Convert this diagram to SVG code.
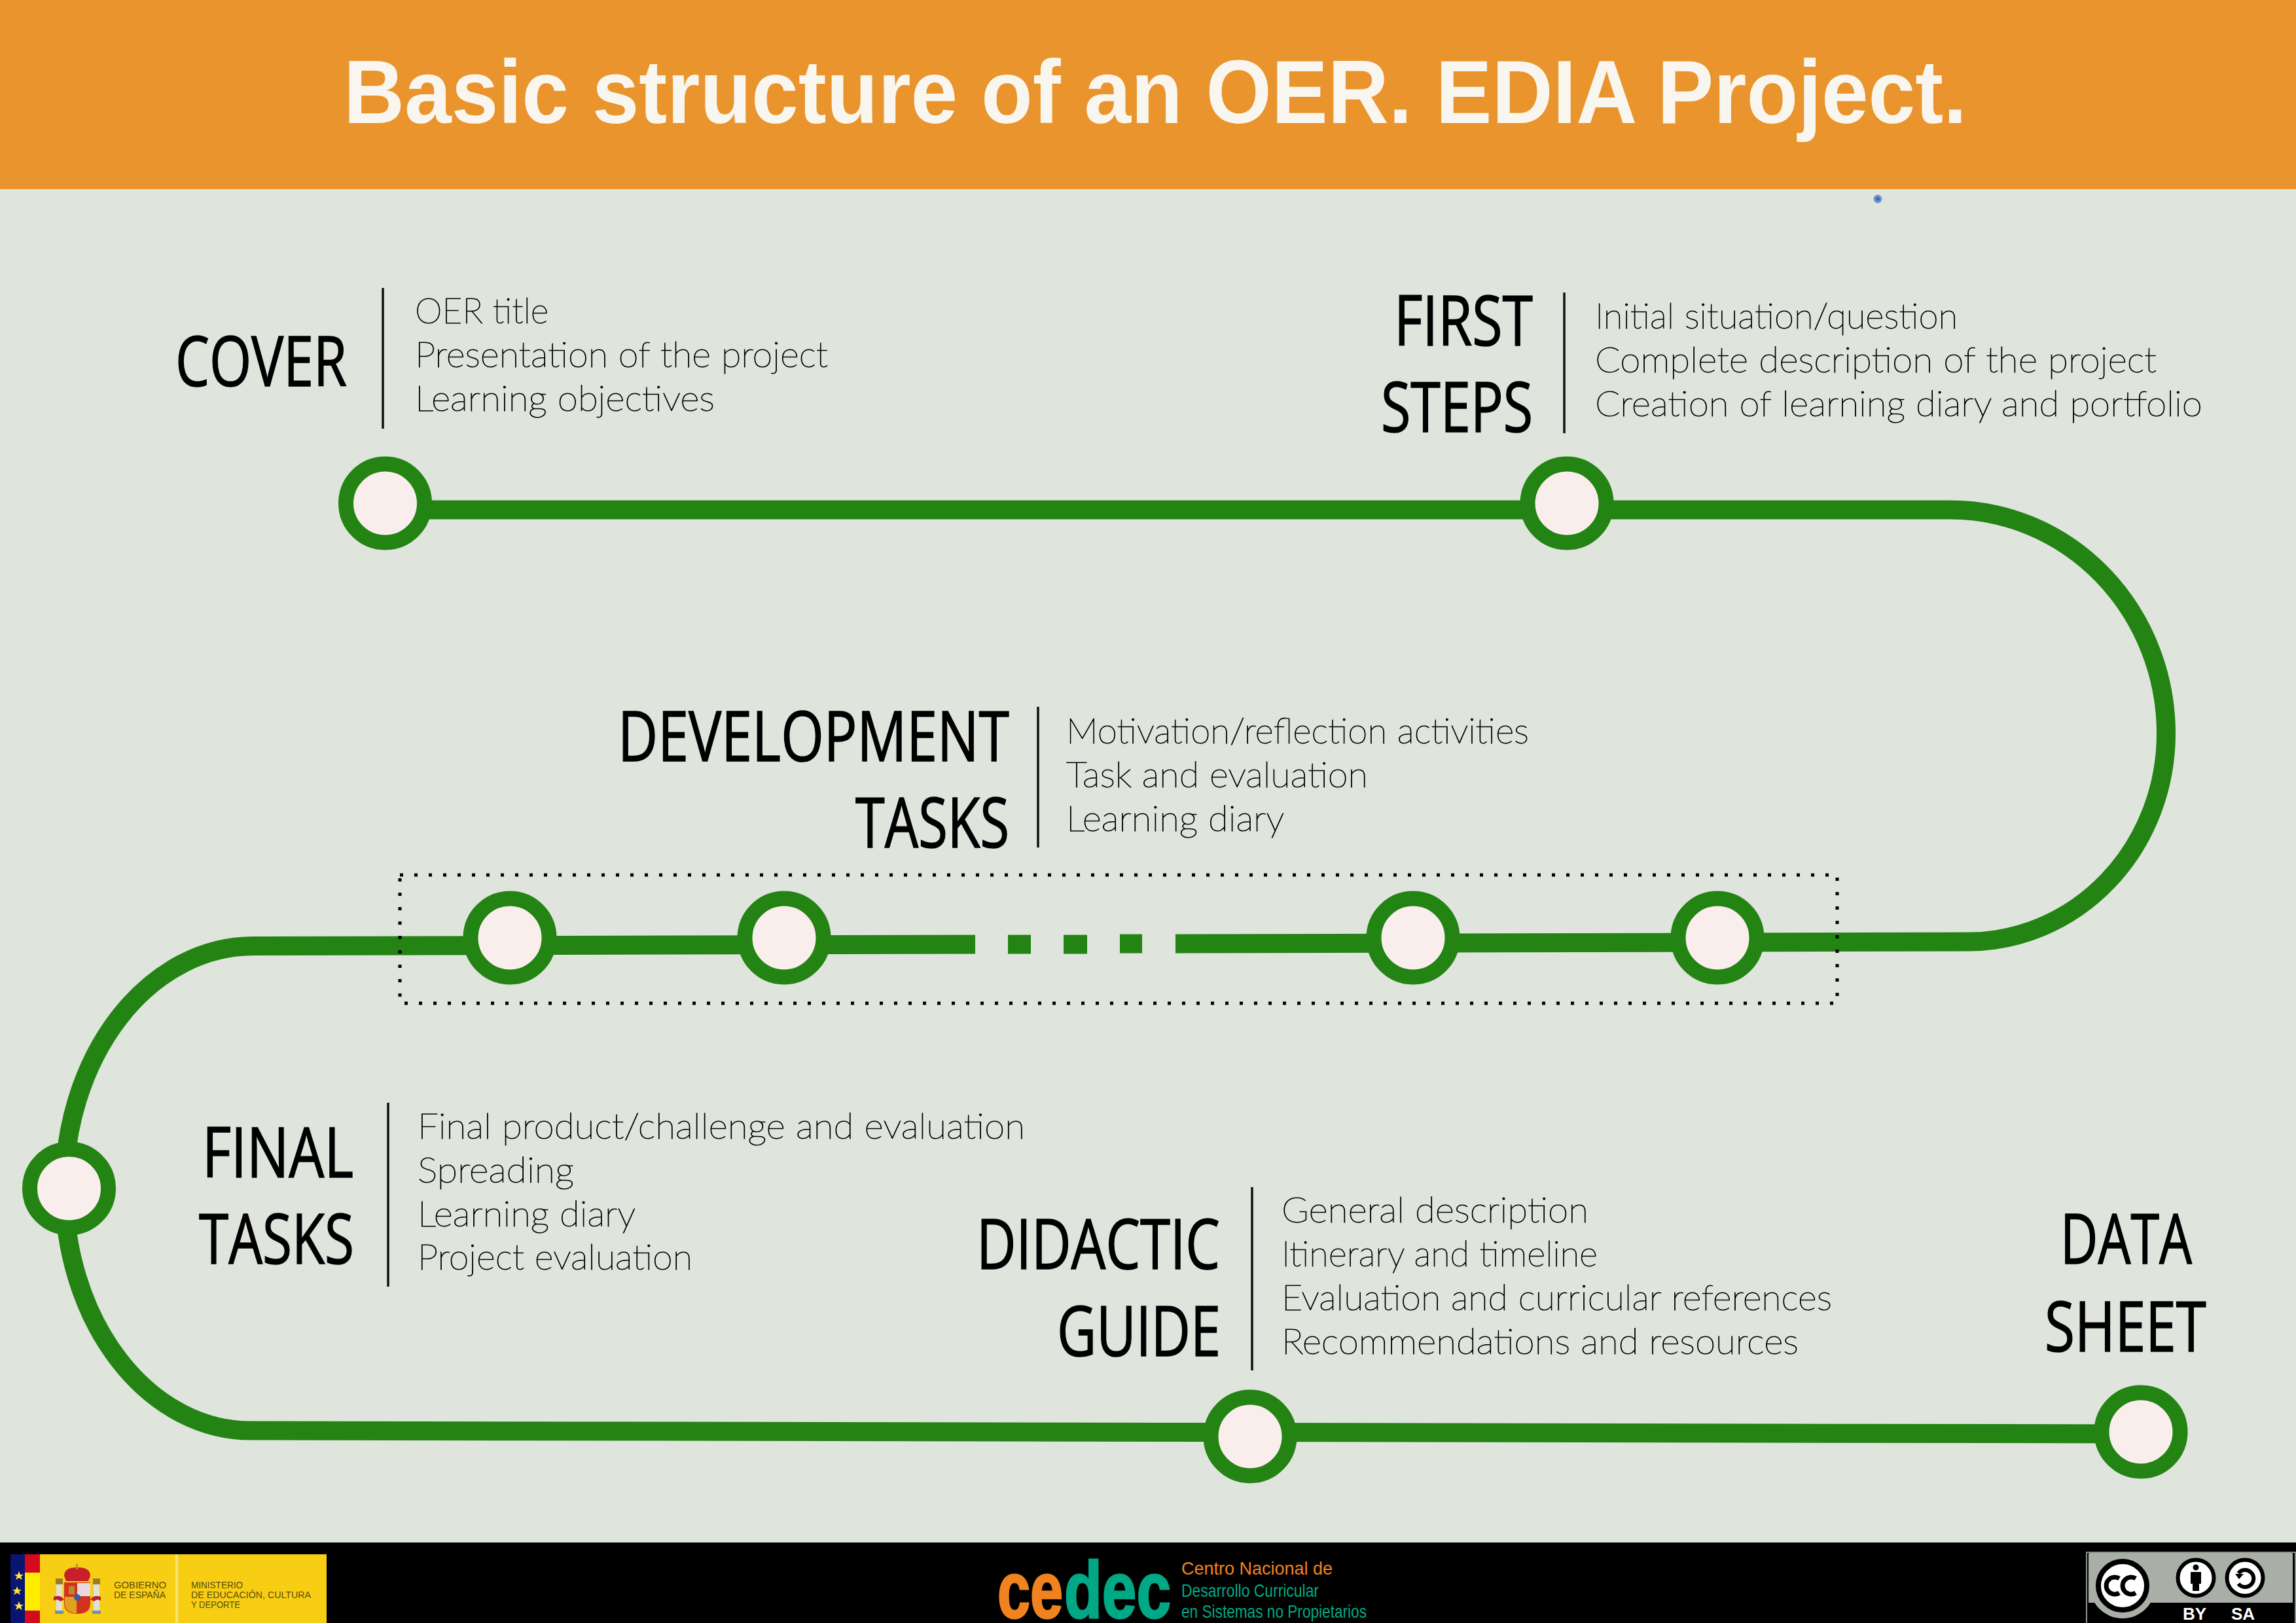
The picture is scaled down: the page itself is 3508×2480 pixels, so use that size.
<svg xmlns="http://www.w3.org/2000/svg" width="3508" height="2480" viewBox="0 0 3508 2480">
<defs>
<style>
.h{font-family:"Open Sans","Liberation Sans",sans-serif;font-size:106px;font-weight:500;fill:#000;stroke:#000;stroke-width:1.5}
.b{font-family:"Lato","Liberation Sans",sans-serif;font-size:53px;font-weight:200;fill:#000;stroke:#000;stroke-width:1}
.v{stroke:#111;stroke-width:3.5;fill:none}
.ring{fill:#F9EEEC;stroke:#238313;stroke-width:23}
.path{fill:none;stroke:#238313;stroke-width:29}
.gov{font-family:"Liberation Sans",sans-serif;font-size:15px;fill:#5c4a10}
.ced{font-family:"Liberation Sans",sans-serif;font-size:28px}
</style>
</defs>
<rect width="3508" height="2480" fill="#DFE4DD"/>
<rect id="header" width="3508" height="289" fill="#E9942D"/>
<text x="525" y="188" textLength="2480" lengthAdjust="spacingAndGlyphs" font-family="'Liberation Sans',sans-serif" font-size="138" font-weight="700" fill="#F8F6EE">Basic structure of an OER. EDIA Project.</text>
<g id="connectors">
<path class="path" d="M600 779H2980A329.500 342 0 0 1 3309.500 1121A302.500 318 0 0 1 3007 1439L1796 1442"/>
<path class="path" d="M1490 1443L387 1445.500A289 371 0 0 0 98 1816A285 370 0 0 0 383 2186L3271 2191"/>
<path class="path" d="M1540 1443H1575M1625 1443H1661M1711 1442H1745"/>
<rect x="611" y="1337" width="2196" height="196" fill="none" stroke="#000" stroke-width="5" stroke-dasharray="5 17"/>
</g>
<g id="cover"><circle class="ring" cx="588.500" cy="769" r="60"/>
<text class="h" x="268" y="590" textLength="262" lengthAdjust="spacingAndGlyphs">COVER</text>
<line class="v" x1="585" y1="440" x2="585" y2="655"/>
<text class="b" x="634" y="494" textLength="204" lengthAdjust="spacingAndGlyphs">OER title</text>
<text class="b" x="634" y="561" textLength="631" lengthAdjust="spacingAndGlyphs">Presentation of the project</text>
<text class="b" x="634" y="628" textLength="458" lengthAdjust="spacingAndGlyphs">Learning objectives</text></g>
<g id="first-steps"><circle class="ring" cx="2394" cy="769" r="60"/>
<text class="h" x="2130" y="528" textLength="212" lengthAdjust="spacingAndGlyphs">FIRST</text>
<text class="h" x="2110" y="660" textLength="232" lengthAdjust="spacingAndGlyphs">STEPS</text>
<line class="v" x1="2390" y1="447" x2="2390" y2="662"/>
<text class="b" x="2437" y="502" textLength="554" lengthAdjust="spacingAndGlyphs">Initial situation/question</text>
<text class="b" x="2437" y="569" textLength="858" lengthAdjust="spacingAndGlyphs">Complete description of the project</text>
<text class="b" x="2437" y="636" textLength="928" lengthAdjust="spacingAndGlyphs">Creation of learning diary and portfolio</text></g>
<g id="development-tasks">
<circle class="ring" cx="779" cy="1433" r="60"/><circle class="ring" cx="1198" cy="1433" r="60"/><circle class="ring" cx="2159" cy="1433" r="60"/><circle class="ring" cx="2624" cy="1433" r="60"/>
<text class="h" x="944" y="1163" textLength="598" lengthAdjust="spacingAndGlyphs">DEVELOPMENT</text>
<text class="h" x="1307" y="1295" textLength="235" lengthAdjust="spacingAndGlyphs">TASKS</text>
<line class="v" x1="1586" y1="1080" x2="1586" y2="1295"/>
<text class="b" x="1629" y="1136" textLength="707" lengthAdjust="spacingAndGlyphs">Motivation/reflection activities</text>
<text class="b" x="1629" y="1203" textLength="461" lengthAdjust="spacingAndGlyphs">Task and evaluation</text>
<text class="b" x="1629" y="1270" textLength="333" lengthAdjust="spacingAndGlyphs">Learning diary</text></g>
<g id="final-tasks"><circle class="ring" cx="105.500" cy="1816" r="60"/>
<text class="h" x="309" y="1799" textLength="231" lengthAdjust="spacingAndGlyphs">FINAL</text>
<text class="h" x="304" y="1931" textLength="237" lengthAdjust="spacingAndGlyphs">TASKS</text>
<line class="v" x1="593" y1="1685" x2="593" y2="1966"/>
<text class="b" x="638" y="1740" textLength="928" lengthAdjust="spacingAndGlyphs">Final product/challenge and evaluation</text>
<text class="b" x="638" y="1807" textLength="239" lengthAdjust="spacingAndGlyphs">Spreading</text>
<text class="b" x="638" y="1874" textLength="333" lengthAdjust="spacingAndGlyphs">Learning diary</text>
<text class="b" x="638" y="1940" textLength="420" lengthAdjust="spacingAndGlyphs">Project evaluation</text></g>
<g id="didactic-guide"><circle class="ring" cx="1910" cy="2195" r="60"/>
<text class="h" x="1492" y="1939" textLength="372" lengthAdjust="spacingAndGlyphs">DIDACTIC</text>
<text class="h" x="1615" y="2072" textLength="250" lengthAdjust="spacingAndGlyphs">GUIDE</text>
<line class="v" x1="1913" y1="1814" x2="1913" y2="2094"/>
<text class="b" x="1958" y="1868" textLength="469" lengthAdjust="spacingAndGlyphs">General description</text>
<text class="b" x="1958" y="1935" textLength="483" lengthAdjust="spacingAndGlyphs">Itinerary and timeline</text>
<text class="b" x="1958" y="2002" textLength="841" lengthAdjust="spacingAndGlyphs">Evaluation and curricular references</text>
<text class="b" x="1958" y="2069" textLength="790" lengthAdjust="spacingAndGlyphs">Recommendations and resources</text></g>
<g id="data-sheet"><circle class="ring" cx="3271" cy="2188" r="60"/>
<text class="h" x="3148" y="1931" textLength="201" lengthAdjust="spacingAndGlyphs">DATA</text>
<text class="h" x="3124" y="2065" textLength="247" lengthAdjust="spacingAndGlyphs">SHEET</text></g>
<circle id="dot" cx="2869" cy="304" r="6.500" fill="#6E98CC"/><circle cx="2869" cy="304" r="3" fill="#4A62B8"/>
<g id="footer">
<rect y="2357" width="3508" height="123" fill="#000"/>
<g id="logo-gov">
<rect x="61" y="2375" width="438" height="105" fill="#F7CE14"/>
<rect x="16" y="2375" width="22" height="105" fill="#0A1572"/>
<rect x="38" y="2375" width="23" height="105" fill="#D40A1E"/>
<rect x="38" y="2403" width="23" height="58" fill="#FFED00"/>
<rect x="268" y="2375" width="4" height="105" fill="#F8E27A"/>
<g fill="#FFE63A"><path d="M29 2401l2 5h5l-4 3 2 5-5-3-5 3 2-5-4-3h5z"/><path d="M26 2424l2 5h5l-4 3 2 5-5-3-5 3 2-5-4-3h5z"/><path d="M29 2447l2 5h5l-4 3 2 5-5-3-5 3 2-5-4-3h5z"/></g>
<rect x="86" y="2413" width="9" height="50" fill="#E0E0D8"/><rect x="143" y="2413" width="9" height="50" fill="#E0E0D8"/>
<rect x="85" y="2412" width="11" height="9" fill="#9A7B2A"/><rect x="142" y="2412" width="11" height="9" fill="#9A7B2A"/>
<rect x="84" y="2461" width="13" height="5" fill="#6E8FB0"/><rect x="141" y="2461" width="13" height="5" fill="#6E8FB0"/>
<path d="M98 2408Q98 2395 118 2395Q138 2395 138 2408L135 2416H101Z" fill="#C8202A"/>
<rect x="116" y="2390" width="3" height="8" fill="#B8902A"/>
<path d="M98 2418H138V2450Q138 2466 118 2466Q98 2466 98 2450Z" fill="#D2331E"/>
<rect x="118" y="2419" width="20" height="20" fill="#E8D8E0"/>
<rect x="105" y="2424" width="9" height="12" fill="#B88A2A"/>
<path d="M99 2440h18v25h-4q-14-3-14-15Z" fill="#E0A020"/>
<circle cx="118" cy="2441" r="5" fill="#3A5BA0"/>
<path d="M82 2440Q92 2436 98 2444L92 2447Q88 2442 82 2446ZM154 2440Q144 2436 138 2444L144 2447Q148 2442 154 2446Z" fill="#B8202A"/>
<text class="gov" x="174" y="2427" textLength="80" lengthAdjust="spacingAndGlyphs">GOBIERNO</text>
<text class="gov" x="174" y="2442" textLength="79" lengthAdjust="spacingAndGlyphs">DE ESPAÑA</text>
<text class="gov" x="292" y="2427" textLength="79" lengthAdjust="spacingAndGlyphs">MINISTERIO</text>
<text class="gov" x="292" y="2442" textLength="183" lengthAdjust="spacingAndGlyphs">DE EDUCACIÓN, CULTURA</text>
<text class="gov" x="292" y="2457" textLength="75" lengthAdjust="spacingAndGlyphs">Y DEPORTE</text>
</g>
<g id="logo-cedec">
<text x="1524" y="2472" font-family="'Liberation Sans',sans-serif" font-size="122" font-weight="700" fill="#F08320" stroke="#F08320" stroke-width="3" textLength="100" lengthAdjust="spacingAndGlyphs">ce</text>
<text x="1626" y="2472" font-family="'Liberation Sans',sans-serif" font-size="122" font-weight="700" fill="#00A886" stroke="#00A886" stroke-width="3" textLength="163" lengthAdjust="spacingAndGlyphs">dec</text>
<text class="ced" x="1805" y="2406" fill="#F08320" textLength="231" lengthAdjust="spacingAndGlyphs">Centro Nacional de</text>
<text class="ced" x="1805" y="2440" fill="#00A886" textLength="210" lengthAdjust="spacingAndGlyphs">Desarrollo Curricular</text>
<text class="ced" x="1805" y="2472" fill="#00A886" textLength="283" lengthAdjust="spacingAndGlyphs">en Sistemas no Propietarios</text>
</g>
<g id="logo-cc">
<rect x="3188" y="2372" width="319" height="110" fill="#000" stroke="#8C908C" stroke-width="2"/>
<path d="M3193 2373H3501a2 2 0 0 1 2 2V2449H3191V2375a2 2 0 0 1 2-2Z" fill="#A9AEA7"/>
<circle cx="3243" cy="2423" r="50" fill="#A9AEA7"/><rect x="3191" y="2449" width="3" height="31" fill="#000"/>
<circle cx="3243" cy="2423" r="37" fill="#fff" stroke="#000" stroke-width="8"/>
<path d="M3238 2412a13 13 0 1 0 0 22M3263 2412a13 13 0 1 0 0 22" fill="none" stroke="#000" stroke-width="7"/>
<circle cx="3355" cy="2411" r="27.500" fill="#fff" stroke="#000" stroke-width="6"/>
<circle cx="3355" cy="2395" r="4.500" fill="#000"/>
<path d="M3347 2402H3363V2420H3360V2431H3350V2420H3347Z" fill="#000"/>
<circle cx="3430" cy="2411" r="27.500" fill="#fff" stroke="#000" stroke-width="6"/>
<path d="M3420 2404A13 13 0 1 1 3420 2420" fill="none" stroke="#000" stroke-width="6"/>
<path d="M3415 2405L3428 2405L3421 2413Z" fill="#000"/>
<text x="3353" y="2475" text-anchor="middle" font-family="'Liberation Sans',sans-serif" font-size="26" font-weight="700" fill="#fff">BY</text>
<text x="3427" y="2475" text-anchor="middle" font-family="'Liberation Sans',sans-serif" font-size="26" font-weight="700" fill="#fff">SA</text>
</g>
</g>
</svg>
